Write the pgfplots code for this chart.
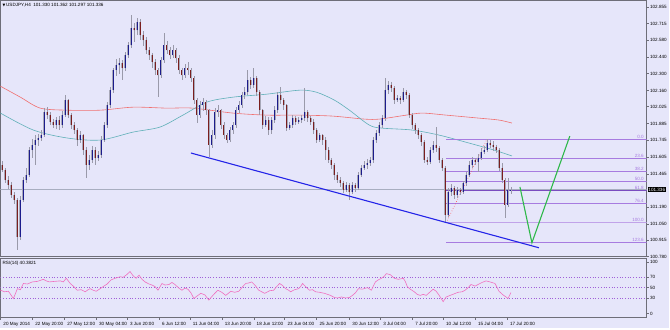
\documentclass[border=0pt]{standalone}
\usepackage{pgfplots}
\pgfplotsset{compat=1.18}
\usepackage{pgfplotstable}
\usepackage{fontspec}
\setmainfont{Liberation Sans}
\newfontfamily\dejavu{DejaVu Sans}
\definecolor{bg}{HTML}{E6E6FA}
\definecolor{frame}{HTML}{6E6E78}
\definecolor{upc}{HTML}{1C1C8C}
\definecolor{dnc}{HTML}{7A1E1E}
\definecolor{wick}{HTML}{9A9AAA}
\definecolor{bodyc}{HTML}{A8A8B8}
\definecolor{maR}{HTML}{F07070}
\definecolor{maT}{HTML}{60B0B8}
\definecolor{fib}{HTML}{A77BE0}
\definecolor{fibd}{HTML}{7A4CC0}
\definecolor{rsic}{HTML}{F070C0}
\definecolor{lvl}{HTML}{A060D8}
\definecolor{trend}{HTML}{2424E8}
\definecolor{grn}{HTML}{2EB84A}
\definecolor{pline}{HTML}{A8AEC0}

\pgfplotstableread{
x o h l c
2 101.541 101.570 101.480 101.500
5 101.500 101.520 101.390 101.417
8 101.417 101.450 101.340 101.376
11 101.376 101.400 101.270 101.293
14 101.293 101.320 101.220 101.251
17 101.251 101.270 100.837 100.945
20 100.945 101.280 100.920 101.251
23 101.251 101.440 101.230 101.417
26 101.417 101.520 101.390 101.458
29 101.458 101.690 101.440 101.665
32 101.665 101.760 101.600 101.707
35 101.707 101.790 101.540 101.748
38 101.748 101.800 101.700 101.765
41 101.765 101.830 101.740 101.789
44 101.789 102.010 101.770 101.980
47 101.980 102.020 101.920 101.955
50 101.955 101.980 101.870 101.897
53 101.897 101.920 101.850 101.872
56 101.872 101.940 101.840 101.914
59 101.914 101.950 101.830 101.872
62 101.872 101.990 101.850 101.955
65 101.955 102.121 101.940 102.079
68 102.079 102.090 101.930 101.955
71 101.955 101.970 101.840 101.872
74 101.872 101.900 101.800 101.831
77 101.831 101.850 101.700 101.748
80 101.748 101.820 101.720 101.789
83 101.789 101.800 101.620 101.665
86 101.665 101.690 101.434 101.541
89 101.541 101.620 101.500 101.583
92 101.583 101.700 101.560 101.665
95 101.665 101.690 101.540 101.599
98 101.599 101.660 101.570 101.624
101 101.624 101.780 101.600 101.748
104 101.748 101.900 101.730 101.872
107 101.872 102.060 101.850 102.038
110 102.038 102.190 102.010 102.162
113 102.162 102.350 102.140 102.328
116 102.328 102.420 102.280 102.369
119 102.369 102.430 102.300 102.385
122 102.385 102.410 102.250 102.344
125 102.344 102.480 102.320 102.452
128 102.452 102.560 102.430 102.534
131 102.534 102.783 102.510 102.675
134 102.675 102.720 102.560 102.659
137 102.659 102.760 102.620 102.725
140 102.725 102.750 102.580 102.617
143 102.617 102.650 102.530 102.576
146 102.576 102.600 102.460 102.493
149 102.493 102.520 102.410 102.452
152 102.452 102.470 102.350 102.394
155 102.394 102.420 102.290 102.328
158 102.328 102.350 102.104 102.286
161 102.286 102.440 102.260 102.410
164 102.410 102.634 102.390 102.534
167 102.534 102.570 102.460 102.493
170 102.493 102.520 102.420 102.452
173 102.452 102.540 102.430 102.493
176 102.493 102.510 102.390 102.427
179 102.427 102.450 102.300 102.328
182 102.328 102.350 102.250 102.286
185 102.286 102.380 102.260 102.344
188 102.344 102.400 102.290 102.328
191 102.328 102.350 102.230 102.261
194 102.261 102.280 102.050 102.079
197 102.079 102.100 101.889 101.955
200 101.955 102.070 101.930 102.038
203 102.038 102.100 101.990 102.060
206 102.060 102.080 101.960 101.996
209 101.996 102.010 101.607 101.707
212 101.707 101.830 101.680 101.789
215 101.789 102.010 101.760 101.980
218 101.980 102.040 101.940 101.996
221 101.996 102.010 101.840 101.872
224 101.872 101.900 101.760 101.789
227 101.789 101.810 101.720 101.748
230 101.748 101.860 101.730 101.831
233 101.831 101.900 101.800 101.872
236 101.872 102.020 101.850 101.996
239 101.996 102.070 101.970 102.038
242 102.038 102.150 102.010 102.121
245 102.121 102.190 102.090 102.145
248 102.145 102.328 102.120 102.245
251 102.245 102.270 102.170 102.203
254 102.203 102.344 102.180 102.261
257 102.261 102.280 102.110 102.145
260 102.145 102.160 101.960 101.996
263 101.996 102.010 101.840 101.872
266 101.872 101.950 101.860 101.914
269 101.914 101.940 101.790 101.831
272 101.831 101.940 101.800 101.914
275 101.914 102.030 101.890 101.996
278 101.996 102.150 101.970 102.121
281 102.121 102.187 102.050 102.079
284 102.079 102.100 102.000 102.038
287 102.038 102.050 101.820 101.847
290 101.847 101.900 101.830 101.872
293 101.872 101.960 101.850 101.930
296 101.930 101.950 101.870 101.897
299 101.897 101.940 101.880 101.914
302 101.914 101.960 101.890 101.930
305 101.930 102.179 101.910 101.980
308 101.980 102.000 101.900 101.930
311 101.930 101.950 101.870 101.897
314 101.897 101.920 101.800 101.831
317 101.831 101.850 101.720 101.748
320 101.748 101.810 101.730 101.789
323 101.789 101.800 101.710 101.748
326 101.748 101.770 101.583 101.665
329 101.665 101.690 101.560 101.583
332 101.583 101.600 101.510 101.541
335 101.541 101.560 101.420 101.458
338 101.458 101.480 101.390 101.417
341 101.417 101.440 101.360 101.392
344 101.392 101.410 101.310 101.334
347 101.334 101.400 101.320 101.376
350 101.376 101.390 101.251 101.318
353 101.318 101.400 101.300 101.376
356 101.376 101.390 101.320 101.351
359 101.351 101.480 101.330 101.458
362 101.458 101.540 101.440 101.516
365 101.516 101.570 101.500 101.541
368 101.541 101.590 101.510 101.558
371 101.558 101.610 101.530 101.583
374 101.583 101.770 101.560 101.748
377 101.748 101.830 101.720 101.806
380 101.806 101.900 101.780 101.872
383 101.872 101.960 101.850 101.930
386 101.930 102.261 101.910 102.162
389 102.162 102.240 102.130 102.203
392 102.203 102.230 102.150 102.179
395 102.179 102.200 102.050 102.079
398 102.079 102.120 102.060 102.096
401 102.096 102.110 102.050 102.079
404 102.079 102.179 102.060 102.145
407 102.145 102.160 102.090 102.121
410 102.121 102.140 101.930 101.955
413 101.955 101.970 101.840 101.872
416 101.872 101.890 101.800 101.831
419 101.831 101.850 101.760 101.789
422 101.789 101.810 101.700 101.732
425 101.732 101.750 101.560 101.583
428 101.583 101.610 101.540 101.566
431 101.566 101.690 101.550 101.665
434 101.665 101.740 101.640 101.707
437 101.707 101.856 101.650 101.682
440 101.682 101.700 101.560 101.583
443 101.583 101.600 101.490 101.516
446 101.516 101.530 101.061 101.127
449 101.127 101.350 101.110 101.318
452 101.318 101.380 101.280 101.351
455 101.351 101.370 101.260 101.293
458 101.293 101.360 101.270 101.334
461 101.334 101.350 101.290 101.318
464 101.318 101.410 101.300 101.392
467 101.392 101.480 101.370 101.458
470 101.458 101.570 101.440 101.541
473 101.541 101.610 101.520 101.583
476 101.583 101.600 101.540 101.566
479 101.566 101.630 101.480 101.599
482 101.599 101.680 101.580 101.649
485 101.649 101.700 101.630 101.665
488 101.665 101.757 101.650 101.723
491 101.723 101.750 101.680 101.707
494 101.707 101.740 101.660 101.690
497 101.690 101.710 101.640 101.665
500 101.665 101.680 101.490 101.516
503 101.516 101.560 101.390 101.417
506 101.417 101.430 101.102 101.210
509 101.210 101.430 101.190 101.330
512 101.330 101.362 101.297 101.336
}\ohlc

\begin{document}
\begin{tikzpicture}[x=1pt,y=1pt]
\fill[bg] (0,0) rectangle (670,328);
\tikzset{lbl/.style={font=\fontsize{4.6}{5}\selectfont}}
\pgfplotsset{candle/.style={draw=none, mark=none, forget plot}}
% ---------- main panel ----------
\begin{axis}[
  at={(0pt,71pt)}, anchor=south west,
  scale only axis, width=648pt, height=257pt,
  xmin=0, xmax=648, ymin=100.7796, ymax=102.907,
  axis line style={frame, line width=0.9pt},
  xtick=\empty,
  ytick={102.855,102.715,102.580,102.440,102.300,102.160,102.025,101.885,101.745,101.605,101.465,101.190,101.050,100.915,100.780},
  yticklabels={102.855,102.715,102.580,102.440,102.300,102.160,102.025,101.885,101.745,101.605,101.465,101.190,101.050,100.915,100.780},
  ytick pos=right, yticklabel pos=right,
  tick align=outside, major tick length=2pt,
  tick style={frame, line width=0.4pt},
  yticklabel style={font=\fontsize{4.6}{5}\selectfont, anchor=west, xshift=-2pt},
  clip mode=individual,
]
% bid line
\addplot[pline, line width=0.6pt] coordinates {(0,101.336) (648,101.336)};
% moving averages
\addplot[maR, line width=0.6pt, smooth] coordinates {
(0,102.195) (20,102.104) (40,102.013) (67,101.996) (100,101.996) (133,102.021) (167,102.013) (193,102.013) (233,101.972) (267,101.955) (300,101.955) (333,101.947) (365,101.922) (380,101.922) (407,101.955) (423,101.972) (447,101.955) (480,101.930) (500,101.914) (513,101.889)};
\addplot[maT, line width=0.6pt, smooth] coordinates {
(0,101.972) (33,101.831) (67,101.765) (100,101.748) (133,101.814) (160,101.856) (183,101.955) (207,102.063) (233,102.104) (267,102.129) (300,102.162) (317,102.145) (335,102.079) (350,101.996) (370,101.872) (383,101.847) (413,101.831) (440,101.789) (470,101.723) (495,101.665) (513,101.616)};
% fibonacci levels
\addplot[fib, line width=0.7pt] coordinates {(447,101.757) (648,101.757)};
\addplot[fib, line width=0.7pt] coordinates {(447,101.593) (648,101.593)};
\addplot[fib, line width=0.7pt] coordinates {(447,101.491) (648,101.491)};
\addplot[fib, line width=0.7pt] coordinates {(447,101.409) (648,101.409)};
\addplot[fibd, line width=0.8pt] coordinates {(447,101.327) (648,101.327)};
\addplot[fib, line width=0.7pt] coordinates {(447,101.225) (648,101.225)};
\addplot[fib!70, line width=1pt] coordinates {(447,101.061) (648,101.061)};
\addplot[fib, line width=0.7pt] coordinates {(447,100.897) (648,100.897)};
\addplot[red!70, dotted, line width=0.6pt] coordinates {(447,101.061) (488,101.757)};
% candles: wicks
\addplot[candle, error bars/.cd, y dir=both, y explicit, error mark=none,
  error bar style={draw=wick, line width=0.5pt}]
  table[x=x, y=o, y error plus expr=\thisrow{h}-\thisrow{o}, y error minus expr=\thisrow{o}-\thisrow{l}] {\ohlc};
% bodies up
\addplot[candle, restrict expr to domain={\thisrow{c}-\thisrow{o}}{0:10},
  error bars/.cd, y dir=plus, y explicit, error mark=none,
  error bar style={draw=bodyc, line width=2pt}]
  table[x=x, y=o, y error plus expr=\thisrow{c}-\thisrow{o}] {\ohlc};
\addplot[candle, restrict expr to domain={\thisrow{c}-\thisrow{o}}{0:10},
  error bars/.cd, y dir=plus, y explicit, error mark=none,
  error bar style={draw=upc, line width=1pt}]
  table[x=x, y=o, y error plus expr=\thisrow{c}-\thisrow{o}] {\ohlc};
% bodies down
\addplot[candle, restrict expr to domain={\thisrow{o}-\thisrow{c}}{0.00001:10},
  error bars/.cd, y dir=plus, y explicit, error mark=none,
  error bar style={draw=bodyc, line width=2pt}]
  table[x=x, y=c, y error plus expr=\thisrow{o}-\thisrow{c}] {\ohlc};
\addplot[candle, restrict expr to domain={\thisrow{o}-\thisrow{c}}{0.00001:10},
  error bars/.cd, y dir=plus, y explicit, error mark=none,
  error bar style={draw=dnc, line width=1pt}]
  table[x=x, y=c, y error plus expr=\thisrow{o}-\thisrow{c}] {\ohlc};
% trend line and projection
\addplot[trend, line width=1.1pt] coordinates {(191,101.6405) (540,100.854)};
\addplot[grn, line width=1.1pt] coordinates {(521,101.359) (533,100.895) (571,101.781)};
% fib labels
\node[lbl, text=fib, anchor=south east, inner sep=0.6pt] at (axis cs:646,101.757) {0.0};
\node[lbl, text=fib, anchor=south east, inner sep=0.6pt] at (axis cs:646,101.593) {23.6};
\node[lbl, text=fib, anchor=south east, inner sep=0.6pt] at (axis cs:646,101.491) {38.2};
\node[lbl, text=fib, anchor=south east, inner sep=0.6pt] at (axis cs:646,101.409) {50.0};
\node[lbl, text=fib, anchor=south east, inner sep=0.6pt] at (axis cs:646,101.327) {61.8};
\node[lbl, text=fib, anchor=south east, inner sep=0.6pt] at (axis cs:646,101.225) {76.4};
\node[lbl, text=fib, anchor=south east, inner sep=0.6pt] at (axis cs:646,101.061) {100.0};
\node[lbl, text=fib, anchor=south east, inner sep=0.6pt] at (axis cs:646,100.897) {123.6};
% current price box
\node[lbl, fill=black, text=white, anchor=west, inner sep=0.7pt] at (axis cs:649,101.336) {101.336};
\end{axis}
% ---------- RSI panel ----------
\begin{axis}[
  at={(0pt,10pt)}, anchor=south west,
  scale only axis, width=648pt, height=59pt,
  xmin=0, xmax=648, ymin=-7.7, ymax=105.8,
  axis line style={frame, line width=0.9pt},
  ytick={0,30,50,70,100}, yticklabels={0,30,50,70,100},
  ytick pos=right, yticklabel pos=right,
  xtick={0,32,64,96,127,159,190,222,254,285,317,350,381,413,444,476,508},
  xticklabels={20 May 2014,22 May 20:00,27 May 12:00,30 May 04:00,3 Jun 20:00,6 Jun 12:00,11 Jun 04:00,13 Jun 20:00,18 Jun 12:00,23 Jun 04:00,25 Jun 20:00,30 Jun 12:00,3 Jul 04:00,7 Jul 20:00,10 Jul 12:00,15 Jul 04:00,17 Jul 20:00},
  xtick pos=bottom,
  tick align=outside, major tick length=2pt,
  tick style={frame, line width=0.4pt},
  yticklabel style={font=\fontsize{4.6}{5}\selectfont, anchor=west, xshift=-2pt},
  xticklabel style={font=\fontsize{4.6}{5}\selectfont, anchor=north west, xshift=-0.5pt, yshift=1pt},
  clip mode=individual,
]
\addplot[lvl, dotted, line width=0.7pt] coordinates {(0,70) (648,70)};
\addplot[lvl, dotted, line width=0.7pt] coordinates {(0,50) (648,50)};
\addplot[lvl, dotted, line width=0.7pt] coordinates {(0,30) (648,30)};
\addplot[rsic, line width=0.6pt] coordinates {
(0,45) (4,42) (8,43) (13,29) (17,48) (20,46) (23,58) (27,57) (32,61) (37,62) (43,66) (46,63) (49,61) (54,62) (60,63) (63,61) (66,68) (70,58) (73,53) (77,45) (81,46) (85,42) (88,46) (90,48) (93,45) (96,43) (100,48) (103,52) (107,57) (111,65) (115,68) (120,71) (123,70) (126,74) (130,81) (133,73) (136,68) (139,74) (142,66) (145,61) (149,57) (152,55) (155,52) (158,45) (162,58) (165,55) (169,56) (172,60) (175,56) (179,49) (182,45) (185,49) (188,47) (191,40) (194,29) (198,35) (201,39) (205,36) (209,26) (213,35) (218,45) (222,41) (226,35) (231,43) (235,41) (239,43) (243,52) (246,58) (249,59) (252,61) (256,53) (259,45) (262,42) (265,39) (270,44) (274,45) (277,52) (280,58) (283,54) (286,48) (289,45) (291,42) (295,46) (299,48) (301,52) (303,58) (307,50) (310,45) (313,46) (316,42) (320,41) (325,39) (328,37) (331,35) (335,31) (338,30) (342,32) (346,30) (350,31) (353,35) (356,40) (359,48) (363,47) (368,50) (372,45) (376,61) (379,65) (382,68) (385,72) (387,77) (391,75) (395,68) (399,66) (404,68) (406,62) (408,52) (411,47) (415,42) (418,37) (421,35) (424,37) (427,35) (431,42) (434,47) (437,43) (440,35) (444,23) (447,32) (451,35) (455,38) (459,41) (463,42) (466,45) (469,50) (472,56) (476,53) (479,56) (483,60) (487,63) (491,61) (496,58) (500,43) (504,36) (507,32) (509,29) (512,40.38)};
\end{axis}
% header texts
\node[lbl, anchor=west, inner sep=0pt] at (2,323) {{\dejavu\fontsize{3.6}{4}\selectfont ▼}\,USDJPY,H4\ \ 101.330 101.362 101.297 101.336};
\node[lbl, anchor=west, inner sep=0pt] at (2,64) {RSI(14) 40.3821};
\end{tikzpicture}
\end{document}
